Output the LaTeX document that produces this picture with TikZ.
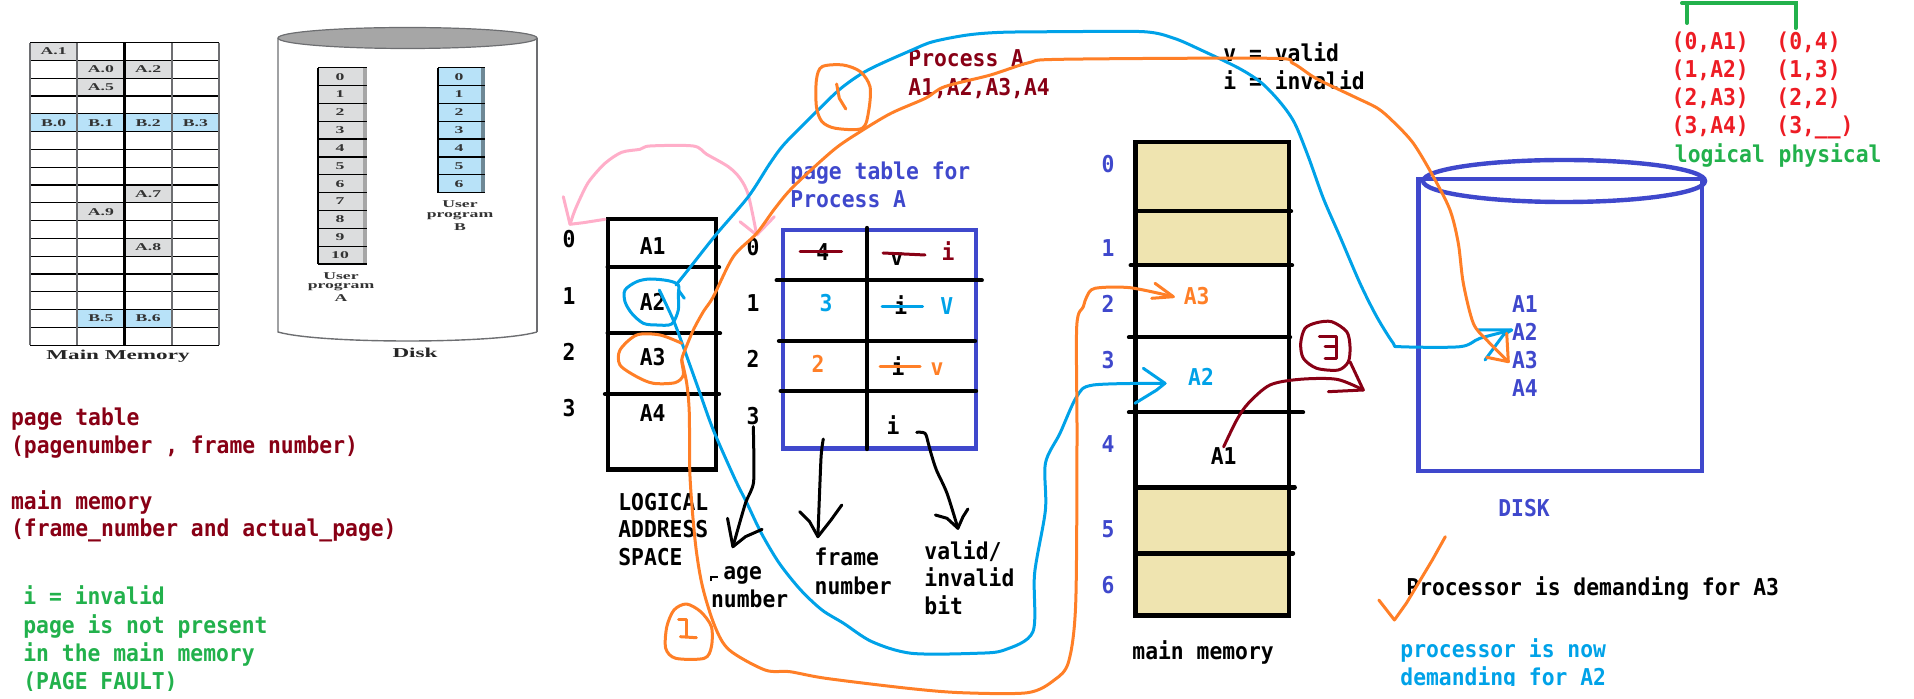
\documentclass[tikz,border=0pt]{standalone}
\usepackage{fontspec}
\usepackage{xcolor}
\usetikzlibrary{positioning}
\newfontfamily\handmono[FakeStretch=0.92]{DejaVu Sans Mono}
\newfontfamily\blurserif[FakeStretch=1.7]{Liberation Serif}
\definecolor{PaintMaroon}{HTML}{880015}
\definecolor{PaintGreen}{HTML}{22B14C}
\definecolor{PaintBlue}{HTML}{3F48CC}
\definecolor{PaintSky}{HTML}{00A2E8}
\definecolor{PaintOrange}{HTML}{FF7F27}
\definecolor{PaintRed}{HTML}{ED1C24}
\definecolor{PaintPink}{HTML}{FFAEC9}
\definecolor{PaintTan}{HTML}{EFE4B0}
\definecolor{BookGray}{HTML}{DCDDDE}
\definecolor{BookBlue}{HTML}{B8E2F8}
\definecolor{BookEdge}{HTML}{6D6E71}
\tikzset{
    % Text styles
    monotext/.style={
        font=\handmono\bfseries\fontsize{11.6}{14}\selectfont,
        inner sep=0pt,
        text height=8.4pt,
        text depth=0pt
    },
    monoleft/.style={
        monotext,
        anchor=west
    },
    booktext/.style={
        font=\blurserif\bfseries\fontsize{5.2}{6}\selectfont,
        text=black!80,
        inner sep=0pt
    },
    booklabel/.style={
        font=\blurserif\bfseries\fontsize{6.8}{8}\selectfont,
        text=black!85,
        inner sep=0pt
    },
    % Line styles
    tableline/.style={
        black,
        line width=2.2pt,
        line cap=round
    },
    diskline/.style={
        PaintBlue,
        line width=2.2pt
    },
    bookrow/.style={
        black,
        line width=0.6pt
    },
    bookedge/.style={
        BookEdge,
        line width=1.4pt
    },
    % Freehand styles
    freehand/.style={
        line width=1.5pt,
        line cap=round,
        line join=round
    },
    orangepen/.style={freehand,PaintOrange},
    skypen/.style={freehand,PaintSky},
    maroonpen/.style={freehand,PaintMaroon},
    pinkpen/.style={freehand,PaintPink},
    blackpen/.style={freehand,black}
}

\begin{document}
\begin{tikzpicture}[x=0.5pt,y=-0.5pt]
    \useasboundingbox (0,0) rectangle (1914,699);

    % Main memory of the book figure
    \foreach \c/\r/\t/\k in {0/0/A.1/BookGray,1/1/A.0/BookGray,2/1/A.2/BookGray,1/2/A.5/BookGray,0/4/B.0/BookBlue,1/4/B.1/BookBlue,2/4/B.2/BookBlue,3/4/B.3/BookBlue,2/8/A.7/BookGray,1/9/A.9/BookGray,2/11/A.8/BookGray,1/15/B.5/BookBlue,2/15/B.6/BookBlue} {
        \fill[\k] ({30+47.25*\c},{42.7+17.8*\r}) rectangle ++(47.25,17.8);
        \node[booktext] (cell\c\r) at ({30+47.25*(\c+0.5)},{42.7+17.8*(\r+0.5)}) {\t};
    }
    \foreach \r in {0,...,17}
        \draw[bookrow] (30,{42.7+17.8*\r}) -- (219,{42.7+17.8*\r});
    \draw[bookedge] (30,42.7) -- (30,345);
    \draw[bookedge] (77,42.7) -- (77,345);
    \draw[black,line width=1.7pt] (124.5,42.7) -- (124.5,345);
    \draw[bookedge] (172,42.7) -- (172,345);
    \draw[bookedge] (219,42.7) -- (219,345);
    \node[booklabel] (mainmemlabel) at (118,356.7) {Main Memory};

    % Disk of the book figure
    \draw[BookEdge,line width=0.7pt] (278,38) -- (278,332) .. controls (320,344) and (495,344) .. (537,332);
    \draw[bookedge] (537,38) -- (537,332);
    \draw[BookEdge,fill=black!35,line width=0.6pt] (407.5,38) ellipse [x radius=129.5,y radius=10.5];
    \foreach \i in {0,...,10} {
        \fill[BookGray] (318,{67.7+17.85*\i}) rectangle (367,{67.7+17.85*(\i+1)});
        \fill[black!35] (362.5,{67.7+17.85*\i}) rectangle (367,{67.7+17.85*(\i+1)});
        \node[booktext] (proga\i) at (340,{67.7+17.85*(\i+0.5)}) {\i};
    }
    \foreach \i in {0,...,11}
        \draw[bookrow] (318,{67.7+17.85*\i}) -- (367,{67.7+17.85*\i});
    \draw[black,line width=1pt] (318,67.7) -- (318,264);
    \foreach \i in {0,...,6} {
        \fill[BookBlue] (438,{67.7+17.85*\i}) rectangle (485,{67.7+17.85*(\i+1)});
        \fill[black!40!BookBlue] (481,{67.7+17.85*\i}) rectangle (485,{67.7+17.85*(\i+1)});
        \node[booktext] (progb\i) at (459,{67.7+17.85*(\i+0.5)}) {\i};
    }
    \foreach \i in {0,...,7}
        \draw[bookrow] (438,{67.7+17.85*\i}) -- (485,{67.7+17.85*\i});
    \draw[black,line width=1pt] (438,67.7) -- (438,192.7);
    \node[booktext] (usera1) at (341,276) {User};
    \node[booktext] (usera2) at (341,287) {program};
    \node[booktext] (usera3) at (341,297.7) {A};
    \node[booktext] (userb1) at (460,204) {User};
    \node[booktext] (userb2) at (460,216) {program};
    \node[booktext] (userb3) at (460,226.7) {B};
    \node[booklabel] (disklabel) at (415,352.7) {Disk};

    % Notes on the left
    \node[monoleft,PaintMaroon] (noteone) at (10.7,416.7) {page table};
    \node[monoleft,PaintMaroon] (notetwo) at (10.7,445) {(pagenumber , frame number)};
    \node[monoleft,PaintMaroon] (notethree) at (10.7,500.7) {main memory};
    \node[monoleft,PaintMaroon] (notefour) at (10.7,528) {(frame\_number and actual\_page)};
    \node[monoleft,PaintGreen] (faultone) at (23,596) {i = invalid};
    \node[monoleft,PaintGreen] (faulttwo) at (23,625) {page is not present};
    \node[monoleft,PaintGreen] (faultthree) at (23,653) {in the main memory};
    \node[monoleft,PaintGreen] (faultfour) at (23,680.7) {(PAGE FAULT)};

    % Logical address space
    \draw[black,line width=2.2pt] (607.7,219.3) rectangle (715.7,469.3);
    \draw[tableline] (607.7,267.3) -- (719,267.3);
    \draw[tableline] (607.7,333.3) -- (720,333.3);
    \draw[tableline] (605,394) -- (719,394);
    \foreach \y/\t in {246/A1,301.7/A2,357/A3,413/A4}
        \node[monotext] (log\t) at (652.7,\y) {\t};
    \foreach \y/\t in {239/0,295.7/1,351.7/2,407.7/3}
        \node[monotext] (logno\t) at (569,\y) {\t};
    \foreach \y/\t in {247/0,303/1,359/2,415.7/3}
        \node[monotext] (pageno\t) at (753,\y) {\t};
    \node[monoleft] (logone) at (617.9,501.7) {LOGICAL};
    \node[monoleft] (logtwo) at (617.9,529.3) {ADDRESS};
    \node[monoleft] (logthree) at (617.9,557.3) {SPACE};

    % Page table
    \node[monoleft,PaintBlue] (ptone) at (790,170.7) {page table for};
    \node[monoleft,PaintBlue] (pttwo) at (790,198.7) {Process A};
    \draw[diskline] (783,230) rectangle (975.7,448.7);
    \draw[tableline] (867,228) -- (867,449);
    \draw[tableline] (776.7,280.3) -- (981.7,280.3);
    \draw[tableline] (779,341) -- (975,341);
    \draw[tableline] (780.7,391) -- (976,391);
    \node[monotext] (frame0) at (822.7,252) {4};
    \node[monotext] (bit0) at (896.7,256.7) {v};
    \node[monotext,PaintMaroon] (newbit0) at (948,251.7) {i};
    \draw[maroonpen] (800,251.3) -- (841.7,251.3);
    \draw[maroonpen] (883,253) -- (925,255);
    \node[monotext,PaintSky] (frame1) at (826,303) {3};
    \node[monotext] (bit1) at (900.7,306) {i};
    \node[monotext,PaintSky] (newbit1) at (946.7,306) {V};
    \draw[skypen] (882,306.3) -- (922.7,306.3);
    \node[monotext,PaintOrange] (frame2) at (818,364) {2};
    \node[monotext] (bit2) at (898,367) {i};
    \node[monotext,PaintOrange] (newbit2) at (937,366.7) {v};
    \draw[orangepen] (880,366.3) -- (920,366.3);
    \node[monotext] (bit3) at (893,425.7) {i};

    % Labels under the page table
    \node[monoleft] (pagelabel) at (722.9,570.7) {age};
    \draw[black,line width=1pt] (711.4,581) -- (711.4,576.5) -- (718,576.5);
    \node[monoleft] (pagelabeltwo) at (710.7,599) {number};
    \node[monoleft] (framelabel) at (814.3,557.3) {frame};
    \node[monoleft] (framelabeltwo) at (814.3,585.7) {number};
    \node[monoleft] (validlabel) at (924,550.7) {valid/};
    \node[monoleft] (validlabeltwo) at (924,578.3) {invalid};
    \node[monoleft] (validlabelthree) at (924,605.7) {bit};

    % Process A and the legend
    \node[monoleft,PaintMaroon] (procone) at (908,58.3) {Process A};
    \node[monoleft,PaintMaroon] (proctwo) at (908,86.7) {A1,A2,A3,A4};
    \node[monoleft] (legendv) at (1223,53) {v = valid};
    \node[monoleft] (legendi) at (1223,81) {i = invalid};

    % Main memory
    \fill[PaintTan] (1135.3,142.3) rectangle (1288.7,265.3);
    \fill[PaintTan] (1135.3,487.3) rectangle (1288.7,615.3);
    \draw[black,line width=2.2pt] (1135.3,142.3) rectangle (1288.7,615.3);
    \draw[tableline] (1135.3,211.3) -- (1291,211.3);
    \draw[tableline] (1130.7,265.3) -- (1292,265.3);
    \draw[tableline] (1129,337.3) -- (1290,337.3);
    \draw[tableline] (1129,412.3) -- (1303,412.3);
    \draw[tableline] (1135.3,487.3) -- (1294.7,487.3);
    \draw[tableline] (1135.3,553.3) -- (1293,553.3);
    \foreach \y/\t in {164.3/0,248.3/1,304.3/2,360.3/3,444.3/4,529/5,585/6}
        \node[monotext,PaintBlue] (memno\t) at (1108,\y) {\t};
    \node[monotext,PaintOrange] (memAthree) at (1196.7,295.7) {A3};
    \node[monotext,PaintSky] (memAtwo) at (1201,376.7) {A2};
    \node[monotext] (memAone) at (1223.6,455.7) {A1};
    \node[monoleft] (memlabel) at (1132,650.7) {main memory};

    % Disk
    \draw[diskline] (1418.3,179.3) rectangle (1702,470.7);
    \draw[diskline] (1564,181) ellipse [x radius=141,y radius=21];
    \foreach \y/\t in {304.3/A1,332.3/A2,360/A3,388.3/A4}
        \node[monoleft,PaintBlue] (disk\t) at (1511.7,\y) {\t};
    \node[monotext,PaintBlue] (disktitle) at (1524,508) {DISK};

    % Demand notes
    \node[monoleft] (demandone) at (1406,586.7) {Processor is demanding for A3};
    \node[monoleft,PaintSky] (demandtwo) at (1400,649) {processor is now};
    \node[monoleft,PaintSky] (demandthree) at (1400,676.7) {demanding for A2};
    \fill[white] (1380,686) rectangle (1800,699);
    \fill[white] (0,691) rectangle (300,699);

    % Logical and physical pairs
    \draw[PaintGreen,line width=2pt,line cap=round] (1687,23) -- (1687,3) -- (1795.6,3) -- (1795.6,28);
    \draw[PaintGreen,line width=2pt,line cap=round] (1682,3) -- (1687,3);
    \foreach \i/\y/\l/\p in {0/40.7/{(0,A1)}/{(0,4)},1/69/{(1,A2)}/{(1,3)},2/97.3/{(2,A3)}/{(2,2)},3/125/{(3,A4)}/{(3,\_\_)}} {
        \node[monoleft,PaintRed] (pairl\i) at (1671.3,\y) {\l};
        \node[monoleft,PaintRed] (pairp\i) at (1776,\y) {\p};
    }
    \node[monoleft,PaintGreen] (pairlogical) at (1674.5,154) {logical};
    \node[monoleft,PaintGreen] (pairphysical) at (1778.3,154) {physical};

    % Arrow ends
    \coordinate (tipPinkLeft) at (570,224.3);
    \coordinate (tipPinkRight) at (756.7,235);
    \coordinate (tipSkyDisk) at (1511.7,330);
    \coordinate (tipOrangeDisk) at (1508.3,361.7);
    \coordinate (tipSkyMem) at (1165,383.3);
    \coordinate (tipOrangeMem) at (1173.3,296.7);
    \coordinate (tipMaroon) at (1363.3,390);
    \coordinate (tipPage) at (732.9,546.7);
    \coordinate (tipFrame) at (817.9,536.7);
    \coordinate (tipValid) at (957.9,528.3);

    % Pink
    \draw[pinkpen] (605,219.3) -- (583.3,222.7) -- (tipPinkLeft) -- (563.3,196.7);
    \draw[pinkpen] plot[smooth,tension=0.5] coordinates {(tipPinkLeft) (575,210) (583.3,191.7) (590,180) (605,163.3) (621.7,152.3) (640,149.3) (650,146) (693.3,146) (706.7,154.3) (728.3,166.7) (740,178.3) (748.3,195) (tipPinkRight)};
    \draw[pinkpen] (740,221.7) -- (tipPinkRight) -- (774.3,216.7);

    % Blue
    \draw[skypen] plot[smooth cycle,tension=0.5] coordinates {(678.3,285) (668.3,280.7) (650,279) (636.7,281.7) (625,290) (625,301.7) (631.7,313.3) (643.3,323.3) (656.7,325) (671.7,324) (678.3,310) (678.3,295)};
    \draw[skypen] (678.3,290) -- (684.3,298.3);
    \draw[skypen] plot[smooth,tension=0.5] coordinates {(676,285) (686.7,271.7) (715.7,235) (748.3,196.7) (770,163.3) (785,143.3) (816.4,111.7) (841,88.3) (868,70) (912,50) (933,41.7) (967.5,35) (1002,32.3) (1061,31.7) (1143.6,31.7) (1174,38.3) (1201,50) (1239,68.3) (1262,83.3) (1281,103.3) (1294.7,123.3) (1308.3,156.7) (1323.3,198.3) (1340,236.7) (1360,283.3) (1376.7,316.7) (1393.3,343.3) (1400,346.7) (1460,346.7) (1480,338.3) (tipSkyDisk)};
    \draw[skypen] (1478.3,330) -- (tipSkyDisk) -- (1503.3,335) -- (1485,360);
    \draw[skypen] plot[smooth,tension=0.5] coordinates {(659.3,290) (673.3,320) (683.3,346.7) (700,393.3) (713.3,430) (734.6,478.3) (747,503.3) (761.4,533.3) (779.3,563.3) (800.7,590) (822,610) (843.6,623.3) (872,641.7) (911.4,653.3) (975.7,653.3) (1004.3,650) (1032.9,631.7) (1034.6,573.3) (1045.4,510) (1045.4,463.3) (1060,433.3) (1076.7,396.7) (1093.3,385) (tipSkyMem)};
    \draw[skypen] (1143.3,368.3) -- (tipSkyMem) -- (1156.7,390) -- (1135,403.3);

    % Orange
    \draw[orangepen] plot[smooth,tension=0.5] coordinates {(681.7,343.3) (660,335) (636.7,335) (620,350) (620,365) (636.7,376.7) (653.3,383.3) (675,382.7) (683.3,375) (681.7,360) (685,350)};
    \draw[orangepen] plot[smooth,tension=0.5] coordinates {(685,350) (693.3,330) (703.3,311.7) (713.3,296.7) (733.3,256.7) (756.7,233.3) (775,208.3) (793.3,186.7) (833.5,150) (860.2,131.7) (891,113.3) (925.4,98.3) (944.6,86.7) (990.5,75) (1028.8,62.7) (1061.3,59.3) (1269.9,58.3) (1292.8,63.3) (1315.8,78.3) (1354,96.7) (1377.6,108.3) (1393.3,121.7) (1413.3,143.3) (1433.3,176.7) (1450,210) (1458.3,243.3) (1463.3,283.3) (1473.3,323.3) (1486.7,340) (tipOrangeDisk)};
    \draw[orangepen] (1506.7,333.3) -- (tipOrangeDisk) -- (1486.7,357.3);
    \draw[orangepen] plot[smooth,tension=0.5] coordinates {(681.7,360) (686.7,383.3) (689.3,413.3) (690,476.7) (695.4,543.3) (702.5,586.7) (715,626.7) (729.3,650) (765,670) (790,671.7) (825.7,678.3) (907.9,688.3) (961.4,692.7) (1027.5,692.7) (1054.3,680) (1068.6,661.7) (1075.7,603.3) (1077,440) (1076.7,326.7) (1083.3,306.7) (1086.7,296.7) (1095,288.3) (1130,287.7) (tipOrangeMem)};
    \draw[orangepen] (1155,283.3) -- (tipOrangeMem) -- (1151.7,298.3);
    \draw[orangepen] plot[smooth cycle,tension=0.5] coordinates {(822,66.7) (843,65) (860.4,71.7) (870,86.7) (868.8,110) (862.3,128.3) (835.5,128.3) (822,121.7) (816.4,106.7) (816.4,80)};
    \draw[orangepen] (836.6,84) -- (839.3,98.3) -- (845.8,109);
    \draw[orangepen] plot[smooth cycle,tension=0.5] coordinates {(674,610) (686.4,604) (700.7,611.7) (711.4,626.7) (711.4,646.7) (704.3,658.3) (675.7,658.3) (665.7,648.3) (666.8,626.7)};
    \draw[orangepen] (678.6,619.3) -- (686.4,619.3) -- (686.4,636.7);
    \draw[orangepen] (680.4,636.7) -- (696.4,637.7);
    \draw[orangepen] (1378.8,600) -- (1394.4,620) -- (1406.3,603.3) -- (1432.3,560) -- (1445.3,536.7);

    % Maroon
    \draw[maroonpen] plot[smooth cycle,tension=0.5] coordinates {(1331.7,321.7) (1346.7,331.7) (1350,346.7) (1348.3,361.7) (1338.3,370) (1316.7,368.3) (1303.3,358.3) (1300.7,343.3) (1305,328.3) (1316.7,322.7)};
    \draw[maroonpen] (1319.3,336.7) -- (1336.7,336.7) -- (1336.7,358.3) -- (1325,358.3);
    \draw[maroonpen] (1325,346.7) -- (1336.7,346.7);
    \draw[maroonpen] plot[smooth,tension=0.5] coordinates {(memAone.north) (1236.7,420) (1248.3,403.3) (1270,385) (1300,379.3) (1336.7,379.3) (tipMaroon)};
    \draw[maroonpen] (1350,361.7) -- (tipMaroon) -- (1328.3,391.7);

    % Black
    \draw[blackpen] plot[smooth,tension=0.4] coordinates {(753.3,426.7) (753.6,481.7) (745.4,503.3) (tipPage)};
    \draw[blackpen] (727.5,518.3) -- (tipPage) -- (745.4,536.7) -- (762.1,529.3);
    \draw[blackpen] plot[smooth,tension=0.4] coordinates {(823.3,439) (821,458) (tipFrame)};
    \draw[blackpen] (799.6,511.7) -- (809.6,521.7) -- (tipFrame) -- (831,520) -- (841.8,505);
    \draw[blackpen] plot[smooth,tension=0.5] coordinates {(916.7,432.3) (925,433.3) (928.3,443.3) (931,453.3) (936.4,470) (947,493.3) (tipValid)};
    \draw[blackpen] (935.4,515) -- (947,518.3) -- (tipValid) -- (963,516.7) -- (967.9,509);
\end{tikzpicture}
\end{document}
